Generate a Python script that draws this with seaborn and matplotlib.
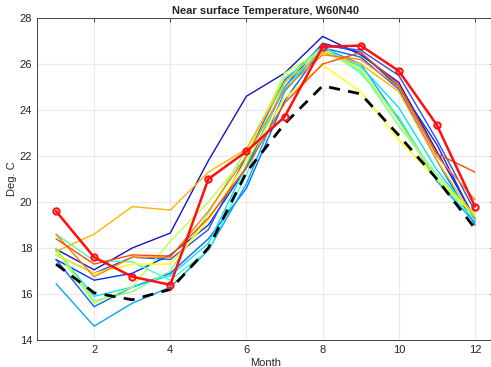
import numpy as np
import pandas as pd
import seaborn as sns
import matplotlib
matplotlib.use("Agg")
import matplotlib.pyplot as plt

months = list(range(1, 13))

# ensemble members (jet-like colours), values in deg C, Jan..Dec
member_names = ["m01", "m02", "m03", "m04", "m05", "m06", "m07",
                "m08", "m09", "m10", "m11", "m12", "m13"]
member_colors = ["#1414c0", "#0030ff", "#3050e0", "#0068ff", "#00a8ff",
                 "#00e4ff", "#40ffc0", "#80ff80", "#c0ff40", "#ffff00",
                 "#ffb400", "#ff8000", "#ff4a00"]
m01 = [17.95, 17.05, 18.0, 18.65, 21.8, 24.6, 25.6, 27.2, 26.4, 25.2, 22.2, 19.3]
m02 = [17.5, 16.6, 16.9, 17.7, 19.0, 21.5, 25.0, 26.9, 26.5, 25.0, 22.5, 19.2]
m03 = [17.7, 16.9, 17.6, 17.5, 18.8, 22.0, 25.3, 26.8, 26.6, 25.5, 22.7, 19.6]
m04 = [17.5, 15.45, 16.3, 16.9, 18.4, 20.6, 24.4, 26.7, 26.3, 24.9, 21.8, 19.0]
m05 = [16.45, 14.6, 15.6, 16.3, 17.9, 20.8, 24.8, 26.7, 26.0, 23.6, 20.9, 19.1]
m06 = [17.9, 15.9, 16.3, 16.8, 18.2, 21.6, 25.0, 26.6, 25.9, 24.1, 21.4, 19.3]
m07 = [18.6, 17.45, 17.4, 16.6, 17.9, 21.2, 25.2, 26.8, 25.6, 23.7, 21.0, 19.2]
m08 = [18.0, 15.7, 16.1, 17.0, 19.5, 22.3, 25.4, 26.6, 25.7, 23.3, 21.2, 19.4]
m09 = [17.9, 15.6, 16.3, 18.3, 20.0, 22.0, 25.6, 26.6, 25.8, 23.5, 21.0, 19.5]
m10 = [17.7, 16.9, 17.3, 17.3, 19.2, 21.8, 24.5, 25.95, 24.8, 22.7, 21.0, 19.4]
m11 = [17.85, 18.6, 19.8, 19.65, 21.3, 22.3, 25.2, 26.5, 26.0, 24.8, 21.8, 19.3]
m12 = [18.6, 16.75, 17.6, 17.6, 19.6, 22.0, 24.9, 26.4, 26.2, 25.0, 22.0, 20.1]
m13 = [18.4, 17.3, 17.7, 17.65, 19.3, 21.5, 24.3, 26.0, 26.5, 25.1, 22.1, 21.3]
members = [m01, m02, m03, m04, m05, m06, m07, m08, m09, m10, m11, m12, m13]

mean_vals = [17.3, 16.05, 15.75, 16.2, 18.0, 21.3, 23.4, 25.05, 24.7, 22.9, 21.0, 18.85]
obs_vals = [19.6, 17.6, 16.75, 16.4, 21.0, 22.2, 23.7, 26.75, 26.8, 25.7, 23.35, 19.8]

rows = []
for name, vals in zip(member_names, members):
    for m, v in zip(months, vals):
        rows.append((name, m, v))
df = pd.DataFrame(rows, columns=["member", "Month", "T"])

sns.set_style("whitegrid")
plt.rcParams["font.family"] = ["Liberation Sans", "DejaVu Sans"]

fig = plt.figure(figsize=(4.91, 3.67), dpi=100)
ax = fig.add_axes([37 / 491, 27 / 367, 457 / 491, 322 / 367])

sns.lineplot(data=df, x="Month", y="T", hue="member", palette=member_colors,
             linewidth=1.0, ax=ax, legend=False, estimator=None)
sns.lineplot(x=months, y=mean_vals, color="black", linewidth=2.0,
             ax=ax, estimator=None)
ax.lines[-1].set_dashes([4, 3])
sns.lineplot(x=months, y=obs_vals, color="#ff1010", linewidth=1.8,
             marker="o", markersize=4.5, markerfacecolor="none",
             markeredgecolor="#ff1010", markeredgewidth=1.5, ax=ax,
             estimator=None)

ax.set_xlim(0.5, 12.5)
ax.set_ylim(14, 28)
ax.set_xticks([2, 4, 6, 8, 10, 12])
ax.set_yticks(np.arange(14, 29, 2))
ax.grid(True, color="#e8e8e8", linewidth=0.8)
for s in ax.spines.values():
    s.set_color("#262626")
    s.set_linewidth(0.6)
ax.tick_params(direction="in", length=3, width=0.6, labelsize=8,
               top=True, right=True, colors="#262626")
ax.set_xlabel("Month", fontsize=8, labelpad=2)
ax.set_ylabel("Deg. C", fontsize=8, labelpad=2)
ax.set_title("Near surface Temperature, W60N40", fontsize=8,
             fontweight="bold", pad=3)

fig.savefig("out.png", dpi=100)
